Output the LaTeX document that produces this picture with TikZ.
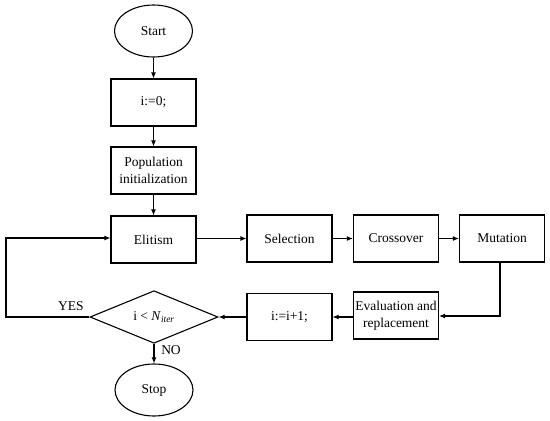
\documentclass[tikz,border=0pt]{standalone}
\usepackage{fontspec}
\setmainfont{Liberation Serif}
\usetikzlibrary{shapes.geometric,arrows.meta}
\begin{document}
\begin{tikzpicture}[x=1pt,y=-1pt,
  every node/.style={font=\fontsize{13.5}{16.5}\selectfont},
  proc/.style={draw,line width=1.1pt,minimum width=85pt,minimum height=47pt,inner sep=1pt,align=center},
  term/.style={draw,ellipse,line width=1.1pt,minimum width=78pt,minimum height=52pt,inner sep=0pt},
  decide/.style={draw,diamond,line width=1.1pt,minimum width=128pt,minimum height=50pt,inner sep=0pt},
  conn/.style={line width=1.1pt,-{Latex[length=6pt,width=5pt]}},
  lbl/.style={inner sep=0pt}]
\useasboundingbox (0,0) rectangle (550,421);
\node[term] (start) at (153.5,31) {Start};
\node[proc] (init0) at (153.5,102.5) {i:=0;};
\node[proc] (pop) at (153.5,170.5) {Population\\initialization};
\node[proc] (elit) at (153.5,239.5) {Elitism};
\node[proc] (sel) at (289.5,238.5) {Selection};
\node[proc] (cross) at (396,238.5) {Crossover};
\node[proc] (mut) at (502,238.5) {Mutation};
\node[proc] (eval) at (396,315.5) {Evaluation and\\replacement};
\node[proc] (inc) at (289.5,317) {i:=i+1;};
\node[decide] (dec) at (154,317) {i < \textit{N}\textsubscript{\textit{iter}}};
\node[term] (stop) at (154,390) {Stop};
\coordinate (loopA) at (6,317);
\coordinate (loopB) at (6,238);
\coordinate (mutC) at (500,316);
\draw[conn] (start) -- (init0);
\draw[conn] (init0) -- (pop);
\draw[conn] (pop) -- (elit);
\draw[conn] (elit.east |- sel) -- (sel);
\draw[conn] (sel) -- (cross);
\draw[conn] (cross) -- (mut);
\draw[conn] (mut.south -| mutC) -- (mutC) -- (eval.east |- mutC);
\draw[conn] (eval.west |- inc) -- (inc);
\draw[conn] (inc) -- (dec);
\draw[conn] (dec.west) -- (loopA) -- (loopB) -- (elit.west |- loopB);
\draw[conn] (dec) -- (stop);
\node[lbl] (yes) at (71,306) {YES};
\node[lbl] (no) at (171,350) {NO};
\end{tikzpicture}
\end{document}
